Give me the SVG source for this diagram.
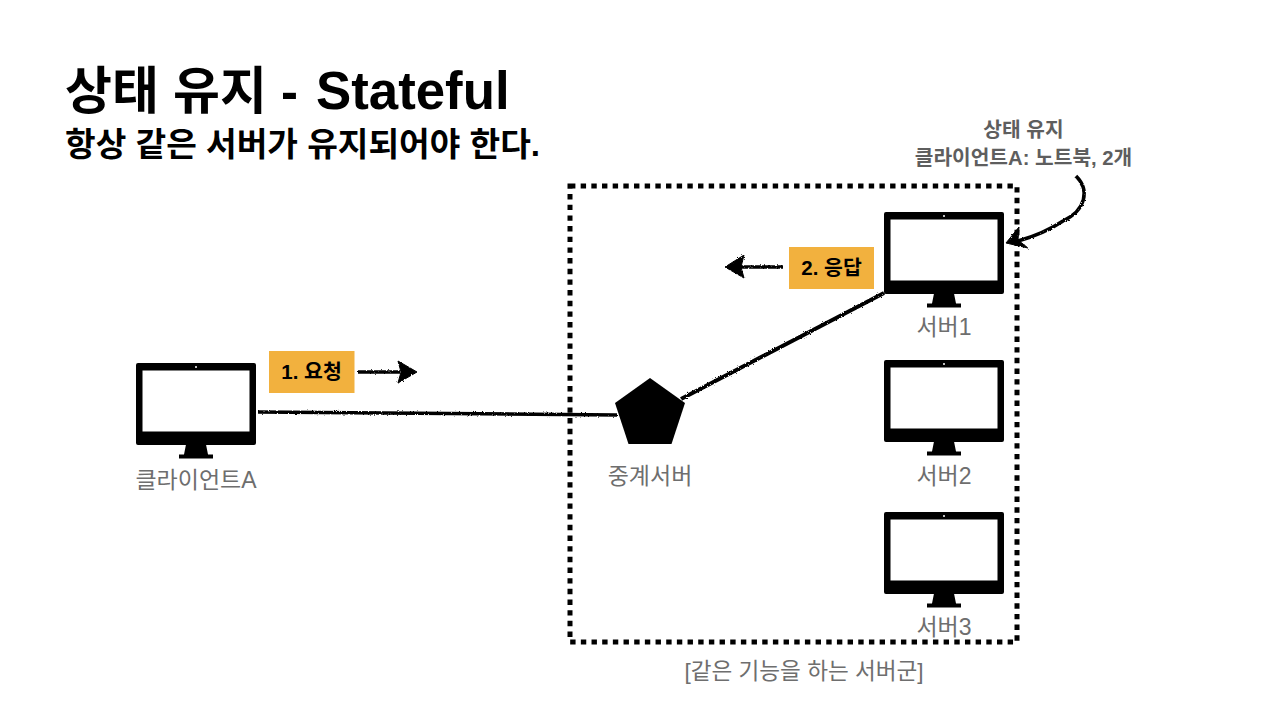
<svg xmlns="http://www.w3.org/2000/svg" width="1280" height="718" viewBox="0 0 1280 718">
<style>
text{font-family:"Liberation Sans","Noto Sans CJK KR",sans-serif}
.title{font-size:52.800px;font-weight:700;fill:#000}
.sub{font-size:33.300px;font-weight:700;fill:#000}
.lbl{font-size:23px;fill:#6e6e6e;text-anchor:middle}
.note{font-size:20.300px;font-weight:700;fill:#5e5e5e;text-anchor:middle}
.tag{fill:#f2b13e}
.tagt{font-size:20.500px;font-weight:700;fill:#000;text-anchor:middle}
.sk{fill:none;stroke:#000;stroke-width:3.500;filter:url(#rough)}
.skh{fill:#000;stroke:#000;stroke-width:1;filter:url(#rough)}
</style>
<defs>
<filter id="rough" x="0" y="0" width="1280" height="718" filterUnits="userSpaceOnUse" primitiveUnits="userSpaceOnUse">
<feTurbulence type="fractalNoise" baseFrequency="0.7" numOctaves="2" seed="3" result="n"/>
<feDisplacementMap in="SourceGraphic" in2="n" scale="2.6"/>
</filter>
<symbol id="mon" width="120" height="96" viewBox="0 0 120 96" overflow="visible">
<path fill-rule="evenodd" d="M2 0H118Q120 0 120 2V80Q120 82 118 82H2Q0 82 0 80V2Q0 0 2 0ZM6.500 7.500V68.500H113.500V7.500Z"/>
<circle cx="60" cy="4" r="1" fill="#fff"/>
<path d="M50 82H70L72 92H77V96H43V92H48Z" transform="translate(0 -0.500)"/>
</symbol>
</defs>
<rect width="1280" height="718" fill="#fff"/>
<text class="title" x="65" y="109"><tspan style="font-size:51px">상태 유지 -</tspan><tspan x="316">Stateful</tspan></text>
<text class="sub" x="65" y="156">항상 같은 서버가 유지되어야 한다.</text>
<rect id="group" x="570" y="186" width="447" height="456" fill="none" stroke="#000" stroke-width="5" stroke-dasharray="5.400 5.270"/>
<text class="lbl" x="804" y="679" style="font-size:22.600px">[같은 기능을 하는 서버군]</text>
<g id="connectors">
<path class="sk" d="M258 412L617 415"/>
<path class="sk" d="M681 399L884 293" style="stroke-width:4"/>
<path class="sk" d="M358 372L400 372"/>
<path class="skh" d="M398 361L417 372L398 383L401 372Z"/>
<path class="sk" d="M783 267L741 267"/>
<path class="skh" d="M744 255L725 267L744 278L741 267Z"/>
<path class="sk" d="M1076 176C1090 190 1086 210 1063 221C1048 231 1036 236 1018 241"/>
<path class="skh" d="M1019 227L1006 243L1028 248L1018 240Z"/>
</g>
<g id="client"><use href="#mon" x="136" y="363"/><text class="lbl" x="196" y="488">클라이언트A</text></g>
<g id="proxy"><path d="M650 378L685 403L671.500 444H628.500L615 403Z"/><text class="lbl" x="650" y="484">중계서버</text></g>
<g id="server1"><use href="#mon" x="884" y="212"/><text class="lbl" x="944" y="335">서버1</text></g>
<g id="server2"><use href="#mon" x="884" y="360"/><text class="lbl" x="944" y="484">서버2</text></g>
<g id="server3"><use href="#mon" x="884" y="512"/><text class="lbl" x="944" y="635">서버3</text></g>
<g id="tag1"><rect class="tag" x="269" y="351" width="85.500" height="42"/><text class="tagt" x="311.500" y="379">1. 요청</text></g>
<g id="tag2"><rect class="tag" x="789" y="247" width="85" height="42"/><text class="tagt" x="831.500" y="275">2. 응답</text></g>
<g id="note"><text class="note" x="1023.500" y="137">상태 유지</text><text class="note" x="1023.500" y="165">클라이언트A: 노트북, 2개</text></g>
</svg>
